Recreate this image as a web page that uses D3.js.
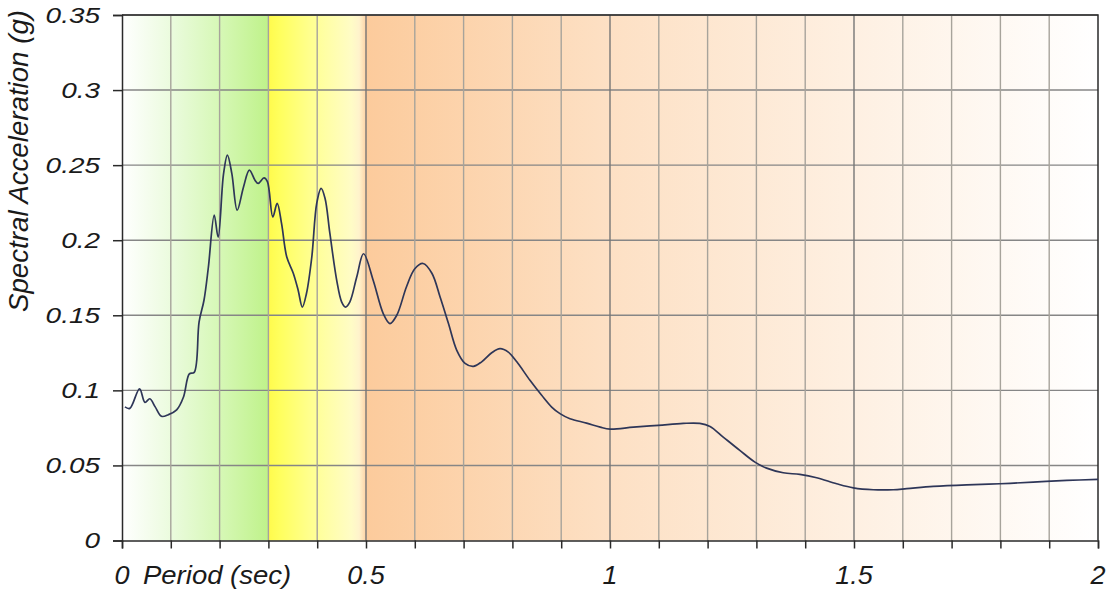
<!DOCTYPE html>
<html><head><meta charset="utf-8">
<script src="https://cdn.jsdelivr.net/npm/d3@7"></script>
<style>
body{margin:0;background:#fff;overflow:hidden;}
text{font-family:"Liberation Sans",Arial,sans-serif;font-style:italic;fill:#1a1a1a;}
</style></head><body>
<svg id="chart" width="1112" height="593"></svg>
<script>
// ---- data ----
const periods = [0.006,0.016,0.036,0.047,0.057,0.068,0.081,0.095,0.112,0.126,0.138,0.148,0.158,0.168,0.177,0.189,0.197,0.208,0.216,0.225,0.236,0.249,0.261,0.2725,0.279,0.291,0.298,0.309,0.318,0.327,0.3375,0.351,0.361,0.3695,0.378,0.389,0.399,0.408,0.416,0.426,0.44,0.45,0.458,0.467,0.481,0.495,0.515,0.5355,0.549,0.563,0.583,0.6,0.617,0.635,0.652,0.669,0.686,0.703,0.72,0.737,0.7576,0.7746,0.7916,0.809,0.836,0.86,0.8805,0.8975,0.918,0.952,0.98,1.0,1.048,1.099,1.15,1.184,1.205,1.232,1.266,1.297,1.321,1.355,1.389,1.4235,1.4645,1.4986,1.5396,1.5805,1.608,1.6625,1.731,1.799,1.867,1.936,2.0];
const accel = [0.089,0.088,0.101,0.092,0.0944,0.089,0.0827,0.0838,0.087,0.0956,0.111,0.112,0.1456,0.16,0.182,0.2167,0.202,0.244,0.2567,0.2445,0.22,0.2355,0.2467,0.24,0.2378,0.2415,0.239,0.2155,0.2245,0.211,0.189,0.178,0.1667,0.1555,0.1645,0.189,0.2245,0.2345,0.228,0.2045,0.1733,0.159,0.1555,0.159,0.1755,0.191,0.173,0.151,0.1445,0.15,0.169,0.181,0.1845,0.178,0.162,0.1445,0.1267,0.118,0.116,0.119,0.125,0.1278,0.1255,0.119,0.1067,0.0967,0.0889,0.0845,0.0811,0.0782,0.0755,0.0742,0.0755,0.0767,0.078,0.078,0.076,0.0689,0.06,0.0522,0.0482,0.0451,0.044,0.0418,0.0378,0.0351,0.0338,0.0338,0.0345,0.036,0.0371,0.0378,0.0389,0.04,0.0407];
const xTickValues = [0,0.1,0.2,0.3,0.4,0.5,0.6,0.7,0.8,0.9,1,1.1,1.2,1.3,1.4,1.5,1.6,1.7,1.8,1.9,2];
const xLabelValues = [0,0.5,1,1.5,2];
const yTickValues = [0,0.05,0.1,0.15,0.2,0.25,0.3,0.35];
const zoneBounds = [0,0.3,0.5,2];
const xTitle = "Period (sec)";
const yTitle = "Spectral Acceleration (g)";

// ---- layout ----
const svg = d3.select("#chart");
const L=122, R=1098, T=15, B=540.5;
const x = d3.scaleLinear().domain([0,2]).range([L,R]);
const y = d3.scaleLinear().domain([0,0.35]).range([B,T]);
const defs = svg.append("defs");

function grad(id, stops){
  const g = defs.append("linearGradient").attr("id",id).attr("x1","0").attr("x2","1").attr("y1","0").attr("y2","0");
  stops.forEach(s=>g.append("stop").attr("offset",s[0]).attr("stop-color",s[1]));
}
grad("z0",[[0,"#ffffff"],[0.35,"#eafbdc"],[0.7,"#d4f7b2"],[1,"#bff28a"]]);
grad("z1",[[0,"#fffb4c"],[0.12,"#ffff5e"],[0.5,"#ffff9a"],[0.85,"#fffcc6"],[0.93,"#fff3cc"],[1,"#fdd2a6"]]);
grad("z2",[[0,"#fccb9c"],[0.33,"#fde0c4"],[0.67,"#fef0e2"],[1,"#ffffff"]]);

svg.append("g").selectAll("rect").data(d3.pairs(zoneBounds)).join("rect")
  .attr("x",d=>x(d[0])).attr("width",d=>x(d[1])-x(d[0]))
  .attr("y",T).attr("height",B-T)
  .attr("fill",(d,i)=>`url(#z${i})`);

// grid
svg.append("g").selectAll("line").data(yTickValues.slice(1)).join("line")
  .attr("x1",L).attr("x2",R).attr("y1",d=>y(d)).attr("y2",d=>y(d))
  .attr("stroke","#868686").attr("stroke-width",1.4);
svg.append("g").selectAll("line").data(xTickValues.slice(1,-1)).join("line")
  .attr("x1",d=>x(d)).attr("x2",d=>x(d)).attr("y1",T).attr("y2",B)
  .attr("stroke",d=>Math.abs(d*2-Math.round(d*2))<1e-6?"#767676":"#a7a39b").attr("stroke-width",1.4);

// axes
const xAxis = svg.append("g").attr("transform",`translate(0,${B})`)
  .call(d3.axisBottom(x).tickValues(xTickValues).tickSize(8).tickFormat(""));
const yAxis = svg.append("g").attr("transform",`translate(${L},0)`)
  .call(d3.axisLeft(y).tickValues(yTickValues).tickSize(9).tickFormat(""));
[xAxis,yAxis].forEach(a=>{a.selectAll("path,line").attr("stroke","#2a2a2a").attr("stroke-width",1.5);});

// frame top/right
svg.append("path").attr("d",`M${L},${T}H${R}V${B}`).attr("fill","none").attr("stroke","#2a2a2a").attr("stroke-width",1.5);

// y tick labels
svg.append("g").selectAll("text").data(yTickValues).join("text")
  .attr("transform",d=>`translate(100,${y(d)+7.5}) scale(1.3,1)`)
  .attr("text-anchor","end").attr("font-size",21.5)
  .text(d=>d3.format("")(+d.toFixed(2)));

// x tick labels
svg.append("g").selectAll("text").data(xLabelValues).join("text")
  .attr("transform",d=>`translate(${x(d)},584) scale(1.08,1)`)
  .attr("text-anchor","middle").attr("font-size",25)
  .text(d=>String(d));

svg.append("text").attr("transform","translate(143,584) scale(1.1,1)")
  .attr("font-size",25).text(xTitle);

svg.append("text").attr("transform","translate(28,161) rotate(-90) scale(1,1.3)")
  .attr("text-anchor","middle").attr("font-size",21.5).attr("textLength",302).attr("lengthAdjust","spacingAndGlyphs")
  .text(yTitle);

// curve
const pts = periods.map((p,i)=>[p,accel[i]]);
svg.append("path").datum(pts)
  .attr("d",d3.line().x(d=>x(d[0])).y(d=>y(d[1])).curve(d3.curveCatmullRom.alpha(0.5)))
  .attr("fill","none").attr("stroke","#2e3658").attr("stroke-width",1.7);
</script>
</body></html>
